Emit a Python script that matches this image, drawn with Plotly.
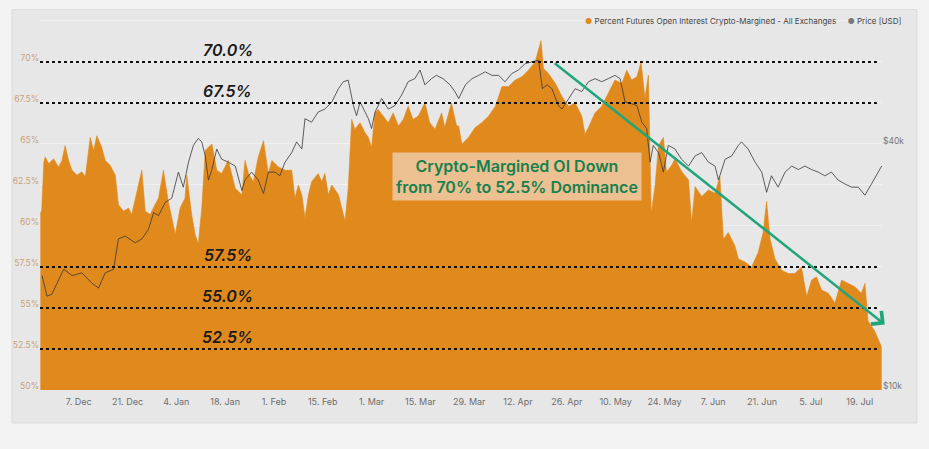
import pandas as pd
import plotly.graph_objects as go

# ---------------- data ----------------
start = pd.Timestamp("2020-11-26")

# Percent futures open interest crypto-margined (days after start, percent)
oi_day = [0.0, 0.4, 1.0, 1.4, 2.4, 3.8, 5.2, 6.2, 7.1, 8.1, 9.1, 10.5, 11.9, 12.9, 14.3, 15.3, 16.2,
          17.6, 18.6, 20.0, 21.5, 22.4, 23.9, 25.3, 26.2, 27.2, 29.1, 30.1, 31.5, 32.9, 33.9, 35.3,
          36.7, 37.7, 38.7, 40.1, 41.5, 42.0, 43.4, 44.4, 45.3, 46.3, 47.3, 48.2, 49.2, 50.6, 52.0,
          53.9, 55.9, 57.8, 58.7, 59.7, 61.1, 62.5, 64.0, 65.4, 66.4, 68.3, 70.2, 72.1, 73.0, 74.0,
          75.0, 75.9, 76.9, 77.8, 79.7, 80.7, 81.6, 82.6, 83.6, 85.5, 86.4, 87.4, 88.3, 89.3, 90.2,
          91.7, 93.1, 94.1, 95.0, 96.0, 96.9, 98.4, 99.8, 101.2, 102.7, 104.1, 105.5, 106.9, 108.4,
          110.3, 111.7, 113.2, 115.1, 116.0, 117.9, 119.4,
          120.0, 120.9, 122.8, 124.7, 126.6, 128.6, 130.5, 132.4, 134.3, 136.2, 138.1, 140.0, 141.9,
          143.6, 144.3, 145.7, 147.7, 149.6, 151.5, 153.4, 155.3, 156.2, 157.2, 159.1, 161.0, 162.9,
          164.8, 166.8, 168.2, 169.6, 171.1, 172.3, 173.4, 174.4, 175.2, 176.3, 177.3, 178.7, 179.6,
          181.1, 182.0, 184.0, 185.9, 186.8, 187.8, 189.7, 191.6, 193.5, 194.9, 195.9, 197.3, 199.2,
          200.2, 202.1, 204.0, 205.9, 207.3, 208.3, 209.3, 210.7, 212.6, 214.5, 216.4, 218.3, 219.8,
          221.2, 222.6, 224.1, 226.0, 227.9, 229.8, 231.7, 233.6, 235.5, 236.5, 237.4, 239.3, 240.5,
          241.3]
oi_pct = [60.7, 61.0, 63.9, 64.2, 63.8, 64.1, 63.6, 64.0, 64.9, 64.0, 63.4, 63.1, 63.3, 63.0, 65.4, 64.6, 65.5,
          64.8, 64.0, 63.7, 63.1, 61.3, 60.9, 61.1, 60.7, 61.7, 63.4, 60.9, 60.7, 61.3, 61.7, 63.4,
          61.5, 60.5, 59.5, 61.1, 61.7, 63.1, 60.7, 59.5, 58.9, 61.1, 64.6, 64.8, 65.0, 63.4, 63.2,
          64.0, 62.3, 61.9, 64.0, 63.2, 62.7, 64.2, 65.2, 63.2, 64.0, 63.6, 63.4, 63.4, 61.7, 62.5,
          61.9, 60.5, 61.9, 62.7, 63.2, 62.7, 63.2, 61.9, 62.5, 61.9, 61.1, 60.3, 62.3, 66.5, 65.9,
          66.3, 65.7, 65.4, 64.8, 66.9, 67.1, 66.7, 66.3, 66.9, 66.1, 66.5, 67.3, 66.5, 66.7,
          67.5, 66.3, 65.9, 66.9, 66.0, 67.5, 66.1,
          66.1, 65.0, 65.4, 66.0, 66.3, 66.7, 67.3, 68.5, 68.5, 68.9, 69.1, 69.5, 70.0,
          71.3, 69.6, 69.3, 68.7, 67.9, 67.3, 67.5, 66.7, 65.6, 66.0, 66.9, 67.3, 68.1,
          68.9, 68.7, 69.5, 68.9, 69.1, 70.0, 67.8, 69.2, 60.8, 62.4, 64.9, 65.4, 63.3,
          63.7, 64.1, 63.3, 62.8, 60.2, 62.4, 61.8, 62.2, 62.0, 63.0, 59.2, 59.6, 58.8,
          58.0, 57.8, 57.5, 58.4, 59.6, 61.5, 59.2, 58.0, 57.3, 57.1, 57.1, 57.5, 55.7,
          56.7, 56.9, 56.1, 55.9, 55.3, 56.7, 56.5, 56.3, 55.9, 56.5, 54.2, 53.6, 53.0,
          52.6]

# BTC price (days after start, thousand USD)
price_day = [0.5, 1.9, 3.3, 5.2, 6.7, 9.1, 11.9, 14.8, 16.7, 18.6, 21.0, 22.4, 24.3, 27.2, 29.1, 31.0,
             32.5, 33.9, 35.8, 37.7, 39.6, 41.0, 42.5, 43.9, 45.3, 46.3, 47.3, 48.2, 49.2, 50.6, 52.0,
             53.9, 55.9, 57.8, 58.7, 60.6, 62.5, 64.0, 65.4, 67.3, 68.7, 70.2, 72.1, 73.5, 75.0, 75.9,
             77.8, 79.7, 81.6, 83.6, 85.5, 86.9, 88.3, 89.8, 90.7, 91.7, 93.1, 94.1, 95.0, 96.0, 97.9,
             99.8, 101.7, 103.6, 105.5, 107.4, 108.9, 110.3, 112.2, 113.6, 115.5, 117.5, 118.9,
             120.0, 121.9, 123.8, 125.7, 127.6, 129.5, 131.4, 133.3, 135.2, 137.1, 139.1, 141.0,
             142.9, 144.0, 145.3, 146.7, 148.6, 149.6, 151.5, 153.4, 155.3, 157.2, 159.1, 161.0,
             162.9, 164.8, 166.3, 167.7, 169.6, 171.1, 172.5, 173.9, 174.9, 175.8, 177.3, 178.7,
             180.1, 182.0, 183.9, 185.9, 187.8, 189.7, 191.6, 193.5, 194.5, 196.4, 198.3, 200.2,
             201.1, 203.0, 205.0, 206.9, 208.3, 209.7, 211.6, 213.6, 215.5, 217.4, 219.3, 221.2,
             223.1, 225.0, 226.9, 228.8, 230.7, 232.7, 234.6, 236.5, 238.4, 240.3, 241.3]
price_k = [19.1, 17.0, 17.2, 18.7, 19.8, 19.1, 19.4, 18.3, 17.8, 19.4, 19.8, 23.5, 23.9, 23.0, 23.5, 24.8,
           27.3, 26.8, 28.9, 29.6, 34.3, 31.5, 36.3, 39.9, 41.5, 40.7, 37.6, 32.8, 34.8, 39.1, 36.9,
           36.3, 35.5, 30.9, 32.8, 34.3, 32.8, 30.4, 34.3, 34.3, 33.6, 36.3, 38.3, 40.7, 39.1, 46.4,
           45.5, 48.2, 49.0, 51.0, 55.0, 57.2, 57.7, 50.0, 47.2, 51.0, 48.2, 46.4, 43.9, 48.2, 52.0,
           49.0, 50.0, 53.0, 57.2, 58.2, 61.1, 56.2, 58.2, 59.3, 58.2, 56.2, 54.1,
           52.0, 56.2, 58.2, 59.3, 60.5, 59.3, 59.3, 57.2, 59.9, 61.1, 63.4, 64.0,
           64.6, 55.0, 56.2, 55.0, 50.0, 49.0, 52.0, 55.0, 54.1, 57.2, 58.2, 57.2,
           58.2, 59.3, 58.2, 51.0, 50.5, 50.0, 45.5, 43.9, 36.3, 39.9, 38.3, 34.3,
           39.9, 39.1, 36.9, 35.5, 37.6, 38.3, 36.3, 35.5, 32.8, 36.9, 37.6, 39.9,
           40.7, 39.1, 36.3, 34.3, 30.6, 33.6, 31.5, 34.3, 35.5, 34.8, 35.5, 34.8,
           34.3, 33.6, 34.3, 32.8, 32.1, 31.5, 31.5, 30.1, 32.1, 34.3, 35.5]

level_values = [70.0, 67.5, 57.5, 55.0, 52.5]

y_ticks = [50, 52.5, 55, 57.5, 60, 62.5, 65, 67.5, 70, 72.5]
y_tick_text = ["50%", "52.5%", "55%", "57.5%", "60%", "62.5%", "65%", "67.5%", "70%", ""]

x_tick_dates = ["2020-12-07", "2020-12-21", "2021-01-04", "2021-01-18", "2021-02-01", "2021-02-15",
                "2021-03-01", "2021-03-15", "2021-03-29", "2021-04-12", "2021-04-26", "2021-05-10",
                "2021-05-24", "2021-06-07", "2021-06-21", "2021-07-05", "2021-07-19"]
x_tick_text = ["7. Dec", "21. Dec", "4. Jan", "18. Jan", "1. Feb", "15. Feb", "1. Mar", "15. Mar",
               "29. Mar", "12. Apr", "26. Apr", "10. May", "24. May", "7. Jun", "21. Jun", "5. Jul",
               "19. Jul"]

price_ticks = [10000, 40000]
price_tick_text = ["$10k", "$40k"]

trend_day = [147.1, 242.2]
trend_pct = [70.0, 54.0]
note_day = 136.8
note_pct = 63.0
note_text = "Crypto-Margined OI Down<br>from 70% to 52.5% Dominance"

oi_name = "Percent Futures Open Interest Crypto-Margined - All Exchanges"
price_name = "Price [USD]"

# ---------------- styling ----------------
ORANGE = "#e0891d"
PRICE = "#383838"
GREEN_TXT = "#17804e"
GREEN_ARROW = "#21a57b"
PANEL = "#e7e7e7"
OUTER = "#f3f3f3"
FONT = "Inter"


def to_dt(d):
    return start + pd.to_timedelta(d, unit="D")


oi_x = [to_dt(d) for d in oi_day]
price_x = [to_dt(d) for d in price_day]
price_usd = [v * 1000 for v in price_k]

fig = go.Figure()
fig.add_trace(go.Scatter(
    x=oi_x, y=oi_pct, mode="lines", fill="tozeroy", fillcolor=ORANGE,
    line=dict(color=ORANGE, width=0.6), name=oi_name, showlegend=False, hoverinfo="skip"))
fig.add_trace(go.Scatter(
    x=price_x, y=price_usd, mode="lines", yaxis="y2",
    line=dict(color=PRICE, width=0.8), name=price_name, showlegend=False, hoverinfo="skip"))

shapes = [dict(type="rect", xref="paper", yref="paper", x0=-0.0333, x1=1.0416, y0=-0.089, y1=1.0254,
               fillcolor=PANEL, line=dict(color="#dcdcdc", width=1), layer="below")]
for v in level_values:
    shapes.append(dict(type="line", xref="paper", yref="y", x0=0, x1=0.994, y0=v, y1=v,
                       line=dict(color="#111111", width=2, dash="3px,3px"), layer="above"))

annotations = []
for v in level_values:
    annotations.append(dict(xref="paper", yref="y", x=0.223, y=v, text=f"{v:.1f}%",
                            showarrow=False, yanchor="bottom", xanchor="center", yshift=0,
                            font=dict(family=FONT, size=16, color="#1a1a1a", style="italic", weight=600)))

annotations.append(dict(x=to_dt(note_day), y=note_pct, xref="x", yref="y", text=note_text,
                        showarrow=False, bgcolor="#ecc091", borderpad=3,
                        font=dict(family=FONT, size=16, color=GREEN_TXT, weight=600)))

annotations.append(dict(x=to_dt(trend_day[1]), y=trend_pct[1], ax=to_dt(trend_day[0]), ay=trend_pct[0],
                        xref="x", yref="y", axref="x", ayref="y", text="", showarrow=True,
                        arrowhead=4, arrowsize=1.3, arrowwidth=2.5, arrowcolor=GREEN_ARROW))

legend_text = (f"<span style='color:{ORANGE}'>●</span> {oi_name}"
               "\u00a0\u00a0\u00a0\u00a0\u00a0"
               f"<span style='color:#7a7a7a'>●</span> {price_name}")
annotations.append(dict(xref="paper", yref="paper", x=1.025, y=0.995, xanchor="right", yanchor="middle",
                        text=legend_text, showarrow=False,
                        font=dict(family=FONT, size=8, color="#444444")))

fig.update_layout(
    width=929, height=449,
    margin=dict(l=40, r=47, t=19, b=59),
    paper_bgcolor=OUTER, plot_bgcolor="rgba(0,0,0,0)",
    font=dict(family=FONT),
    showlegend=False,
    xaxis=dict(type="date", range=[to_dt(-0.1), to_dt(241.4)], tickvals=x_tick_dates, ticktext=x_tick_text,
               showgrid=False, zeroline=False, showline=False, ticks="", ticklabelstandoff=5,
               tickfont=dict(family=FONT, size=9, color="#6e6e6e")),
    yaxis=dict(range=[50, 72.62], tickvals=y_ticks, ticktext=y_tick_text, showgrid=True,
               gridcolor="#f1f1f1", gridwidth=1, zeroline=False, showline=False, ticks="",
               ticklabelshift=-4,
               tickfont=dict(family=FONT, size=8.5, color="#c9a27c")),
    yaxis2=dict(overlaying="y", side="right", type="log", range=[4, 4.9115], tickvals=price_ticks,
                ticktext=price_tick_text, showgrid=False, zeroline=False, showline=False, ticks="",
                ticklabelshift=-4,
                tickfont=dict(family=FONT, size=8.5, color="#777777")),
    shapes=shapes,
    annotations=annotations,
)

fig.write_html("out.html")
